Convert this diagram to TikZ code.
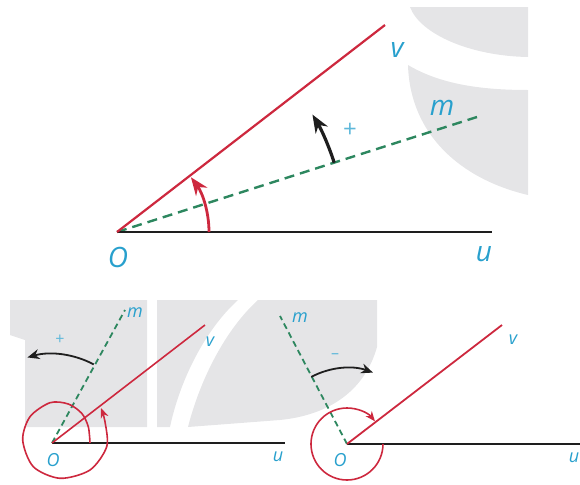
\documentclass[tikz,border=0pt]{standalone}
\usepackage{fontspec}
\setsansfont{Open Sans}
\usepackage{xcolor}
\usepackage{tikz}
\usetikzlibrary{arrows.meta,calc}

\definecolor{rayred}{RGB}{205,40,62}
\definecolor{bisgreen}{RGB}{45,135,95}
\definecolor{labcyan}{RGB}{40,160,205}
\definecolor{markgray}{RGB}{229,229,231}
\definecolor{turnblack}{RGB}{30,30,30}

\tikzset{
  ray/.style={rayred,line width=1pt},
  base/.style={turnblack,line width=1.4pt},
  bis/.style={bisgreen,line width=1.2pt,dash pattern=on 5pt off 3pt},
  lab/.style={labcyan,font=\sffamily\itshape\fontsize{14}{14}\selectfont,inner sep=0pt},
  slab/.style={labcyan,font=\sffamily\itshape\fontsize{9}{9}\selectfont,inner sep=0pt},
  sgn/.style={labcyan!75,font=\sffamily\fontsize{12}{12}\selectfont,inner sep=0pt},
}

\begin{document}
\begin{tikzpicture}[x=0.5pt,y=0.5pt]
        \useasboundingbox (0,0) rectangle (580,484);
        % watermark
        \fill[markgray] (410,477) -- (528,477) -- (528,427)
          .. controls (470,428) and (420,450) .. (410,477) -- cycle;
        \fill[markgray] (408,419) .. controls (440,400) and (480,394) .. (528,394)
          -- (528,289) .. controls (460,305) and (410,350) .. (408,419) -- cycle;
        \fill[markgray] (10,184) -- (147,184) -- (147,57) -- (25,57) -- (25,144) -- (10,149) -- cycle;
        \fill[markgray] (157,184) -- (238,184) .. controls (205,154) and (180,104) .. (170,57)
          -- (157,57) -- cycle;
        \fill[markgray] (258,184) -- (377,184) -- (377,137)
          .. controls (365,94) and (330,69) .. (280,64) -- (188,57)
          .. controls (200,104) and (225,154) .. (258,184) -- cycle;

        % top: angle (u,v) with bisector m
        \coordinate (O1) at (117,252);
        \coordinate (U1) at (492,252);
        \coordinate (V1) at (385,459);
        \coordinate (M1) at (477,367);
        \draw[bis] (O1) -- (M1);
        \draw[base] (O1) -- (U1);
        \draw[ray,line width=1.1pt] (O1) -- (V1);
        \draw[rayred,line width=1.4pt,-{Stealth[length=9pt,width=7pt]}]
          ($(O1)+(0:92)$) arc[start angle=0,end angle=36.5,radius=92];
        \draw[turnblack,line width=1.6pt,-{Stealth[length=9pt,width=7pt]}]
          ($(O1)+(17.7:228)$) arc[start angle=17.7,end angle=31,radius=228];
        \node[lab] (o1) at (118,227) {O};
        \node[lab] (u1) at (484,230) {u};
        \node[lab] (v1) at (397,434) {v};
        \node[lab] (m1) at (442,376) {m};
        \node[sgn] (p1) at (350,354) {+};

        % bottom left: positive turn
        \coordinate (O2) at (52,41);
        \coordinate (U2) at (285,41);
        \coordinate (V2) at (205,159);
        \coordinate (M2) at (125,174);
        \draw[bis,line width=0.9pt,dash pattern=on 3pt off 2pt] (O2) -- (M2);
        \draw[base,line width=1pt] (O2) -- (U2);
        \draw[ray,line width=0.8pt] (O2) -- (V2);
        \draw[rayred,line width=0.8pt,-{Stealth[length=5pt,width=4pt]}]
          plot[smooth] coordinates {(90,41) (88.3,57.3) (81.7,70.7) (68.3,80) (50,81.3)
          (30,67.3) (22.7,44) (33.3,17.3) (60,5.7) (90,14) (106.7,37.3) (105,62.3) (101,76)};
        \draw[turnblack,line width=0.9pt,-{Stealth[length=6pt,width=5pt]}]
          ($(O2)+(62:89)$) arc[start angle=62,end angle=106,radius=89];
        \node[slab] (o2) at (53,24) {O};
        \node[slab] (u2) at (278,27) {u};
        \node[slab] (v2) at (210,142) {v};
        \node[slab] (m2) at (135,171) {m};
        \node[sgn,font=\sffamily\fontsize{8}{8}\selectfont] (p2) at (60,144) {+};

        % bottom right: negative turn
        \coordinate (O3) at (347,40);
        \coordinate (U3) at (580,40);
        \coordinate (V3) at (502,159);
        \coordinate (M3) at (280,168);
        \draw[bis,line width=0.9pt,dash pattern=on 3pt off 2pt] (O3) -- (M3);
        \draw[base,line width=1pt] (O3) -- (U3);
        \draw[ray,line width=0.9pt] (O3) -- (V3);
        \draw[rayred,line width=0.8pt,-{Stealth[length=5pt,width=4pt]}]
          ($(O3)+(0:36)$) arc[start angle=0,end angle=-321,radius=36];
        \draw[turnblack,line width=0.9pt,-{Stealth[length=6pt,width=5pt]}]
          ($(O3)+(118:76)$) arc[start angle=118,end angle=70,radius=76];
        \node[slab] (o3) at (340,24) {O};
        \node[slab] (u3) at (574,26) {u};
        \node[slab] (v3) at (513,144) {v};
        \node[slab] (m3) at (300,166) {m};
        \node[sgn,font=\sffamily\fontsize{8}{8}\selectfont] (n3) at (335,128) {--};
      \end{tikzpicture}
\end{document}
